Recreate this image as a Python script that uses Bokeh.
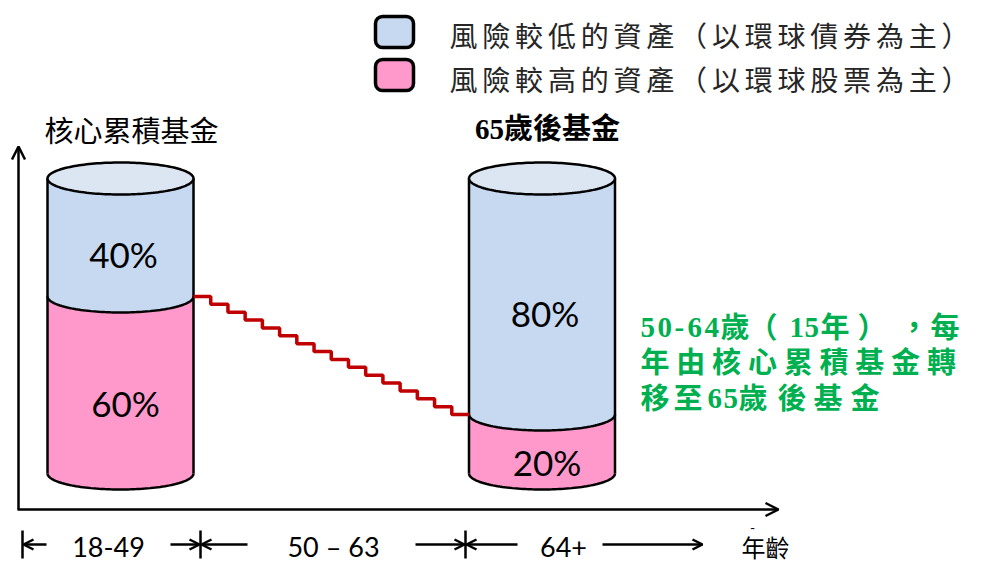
import numpy as np
from bokeh.plotting import figure
from bokeh.models import Range1d, Arrow, OpenHead
from bokeh.core.properties import value
from bokeh.embed import file_html
from bokeh.resources import INLINE

# ---------------- data ----------------
funds = ["核心累積基金", "65歲後基金"]
low_risk_pct = [40, 80]      # 風險較低的資產
high_risk_pct = [60, 20]     # 風險較高的資產
legend_labels = ["風險較低的資產（以環球債券為主）", "風險較高的資產（以環球股票為主）"]
age_labels = ["18-49", "50 – 63", "64+"]
transfer_years = [50, 51, 52, 53, 54, 55, 56, 57, 58, 59, 60, 61, 62, 63, 64]
axis_label = "年齡"
note_lines = [
    ["5", "0", "-", "6", "4", "歲", "（", "1", "5", "年", "）", "，", "每"],
    ["年", "由", "核", "心", "累", "積", "基", "金", "轉"],
    ["移", "至", "6", "5", "歲", "後", "基", "金"],
]

# ---------------- styles ----------------
BLUE = "#C6D9F1"
BLUE_TOP = "#DCE6F2"
PINK = "#FF99CC"
RED = "#C00000"
GREEN = "#00B050"
CJK = "Noto Sans CJK TC"
MIX = "Liberation Serif, Noto Sans CJK TC"
LAT = "Lato"

p = figure(width=972, height=565, x_range=Range1d(0, 972), y_range=Range1d(565, 0),
           output_backend="svg", toolbar_location=None, min_border=0,
           x_axis_location=None, y_axis_location=None)
p.grid.visible = False
p.outline_line_color = None
p.background_fill_color = "white"

# cylinder layout
cyl_cx = [120, 541.5]
cyl_hw = 73
cyl_top = 178
cyl_bot = 473
ry = 16
H = cyl_bot - cyl_top


def lower_arc(cx, y, hw, r, n=80):
    t = np.linspace(0, np.pi, n)
    return cx + hw * np.cos(t), y + r * np.sin(t)


boundary_y = []
for cx, lo, hi in zip(cyl_cx, low_risk_pct, high_risk_pct):
    yb = cyl_top + H * lo / (lo + hi)
    boundary_y.append(yb)
    ax, ay = lower_arc(cx, yb, cyl_hw, ry)
    bx, by = lower_arc(cx, cyl_bot, cyl_hw, ry)
    p.patch(list(np.r_[[cx - cyl_hw, cx + cyl_hw], ax]), list(np.r_[[cyl_top, cyl_top], ay]),
            fill_color=BLUE, line_color=None)
    p.patch(list(np.r_[ax[::-1], bx]), list(np.r_[ay[::-1], by]),
            fill_color=PINK, line_color=None)
    p.multi_line([list(ax), list(bx)], [list(ay), list(by)], line_color="black", line_width=2.5)
    p.segment(x0=[cx - cyl_hw, cx + cyl_hw], y0=[cyl_top, cyl_top],
              x1=[cx - cyl_hw, cx + cyl_hw], y1=[cyl_bot, cyl_bot], line_color="black", line_width=2.5)
    t = np.linspace(0, 2 * np.pi, 160)
    p.patch(list(cx + cyl_hw * np.cos(t)), list(cyl_top + ry * np.sin(t)),
            fill_color=BLUE_TOP, line_color="black", line_width=2.5)
    p.text(x=[cx + 3, cx + 5], y=[(cyl_top + yb) / 2 + 16, (yb + cyl_bot) / 2 + 18],
           text=[f"{lo}%", f"{hi}%"], text_font=value(LAT), text_font_size="35px",
           text_align="center", text_baseline="middle", text_color="black")

# fund titles
p.text(x=[131], y=[128], text=[funds[0]], text_font=value(CJK), text_font_size="29px",
       text_align="center", text_baseline="middle", text_color="black")
p.text(x=[547], y=[128], text=[funds[1]], text_font=value(MIX), text_font_size="29px",
       text_font_style="bold", text_align="center", text_baseline="middle", text_color="black")

# red staircase: yearly transfer
x_start = cyl_cx[0] + cyl_hw
x_end = cyl_cx[1] - cyl_hw
n = len(transfer_years)
w = (x_end - x_start) / (n + 1)
sx, sy = [], []
for k in range(n + 1):
    lvl = boundary_y[0] + k * (boundary_y[1] - boundary_y[0]) / n
    sx += [x_start + k * w, x_start + (k + 1) * w]
    sy += [lvl, lvl]
p.line(sx, sy, line_color=RED, line_width=3.5)

# axes with arrows
head = lambda s: OpenHead(size=s, line_width=2.5, line_color="black")
p.add_layout(Arrow(end=head(13), x_start=18, y_start=509, x_end=18, y_end=146,
                   line_width=2.5, line_color="black"))
p.add_layout(Arrow(end=head(13), x_start=17, y_start=509, x_end=778, y_end=509,
                   line_width=2.5, line_color="black"))

# age range markers
p.segment(x0=[22, 200, 465], y0=[530] * 3, x1=[22, 200, 465], y1=[558] * 3,
          line_color="black", line_width=2.5)
for xs_, xe_ in [(46, 23), (170, 199), (247, 201), (415, 464), (517, 466), (602, 702)]:
    p.add_layout(Arrow(end=head(10), x_start=xs_, y_start=544, x_end=xe_, y_end=544,
                       line_width=2.5, line_color="black"))
p.text(x=[108, 333, 563], y=[546] * 3, text=age_labels, text_font=value(LAT),
       text_font_size="27px", text_align="center", text_baseline="middle", text_color="black")
p.text(x=[752], y=[527], text=["-"], text_font=value(LAT), text_font_size="14px",
       text_align="center", text_baseline="middle", text_color="black")
p.text(x=[741], y=[546], text=[axis_label], text_font=value(CJK), text_font_size="24px",
       text_align="left", text_baseline="middle", text_color="black")

# legend
p.quad(left=[375, 375], right=[413, 413], top=[16, 59], bottom=[47, 90],
       fill_color=[BLUE, PINK], line_color="black", line_width=3.5, border_radius=7)
lx, ly, lt = [], [], []
for row, lab in enumerate(legend_labels):
    for i, ch in enumerate(lab):
        lx.append(449 + 32.8 * i)
        ly.append(34 + 44 * row)
        lt.append(ch)
p.text(x=lx, y=ly, text=lt, text_font=value(CJK), text_font_size="28px",
       text_align="left", text_baseline="middle", text_color="#262626")

# green note
note_x = [
    [640, 657, 674, 687, 704, 720, 748, 789, 804, 820, 857, 899, 930],
    [640 + 35.8 * i for i in range(9)],
    [640, 673, 707, 723, 738, 777, 813, 850],
]
note_y = [327, 362, 398]
gx, gy, gt = [], [], []
for toks, xs_, y_ in zip(note_lines, note_x, note_y):
    for tk, x_ in zip(toks, xs_):
        gx.append(x_)
        gy.append(y_)
        gt.append(tk)
p.text(x=gx, y=gy, text=gt, text_font=value(MIX), text_font_size="29px", text_font_style="bold",
       text_align="left", text_baseline="middle", text_color=GREEN)

open("out.html", "w").write(file_html(p, INLINE))
